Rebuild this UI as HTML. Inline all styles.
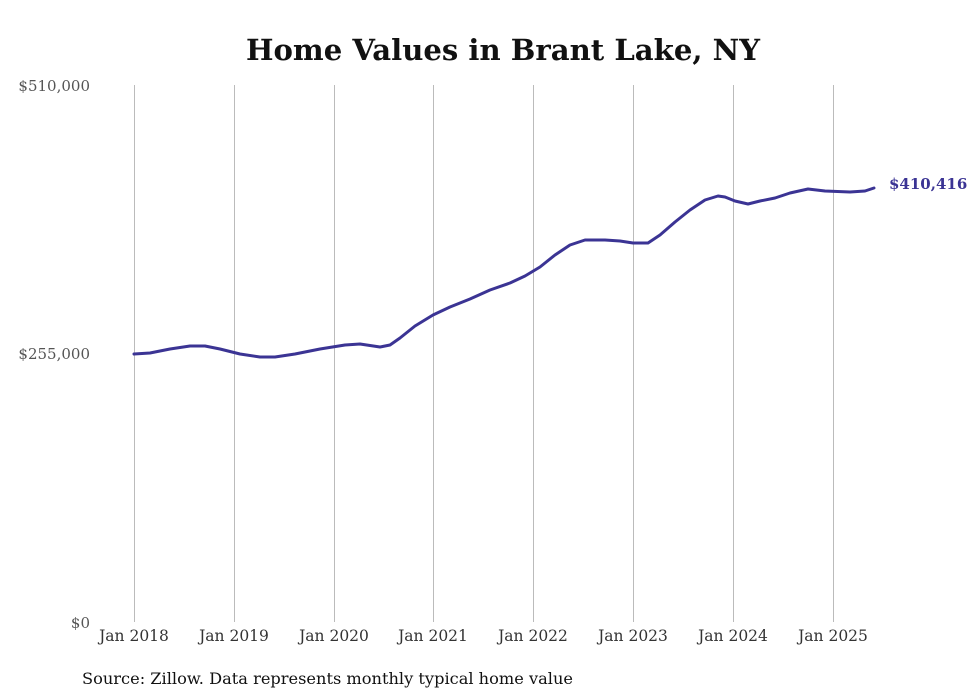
<!DOCTYPE html>
<html><head><style>
body{margin:0;background:#fff;}
svg{display:block;}
</style></head><body>
<svg width="980" height="699" xmlns="http://www.w3.org/2000/svg" font-family="'DejaVu Serif','Liberation Serif',serif">
<text x="503" y="60" text-anchor="middle" font-size="29" font-weight="bold" fill="#111" textLength="514" lengthAdjust="spacingAndGlyphs">Home Values in Brant Lake, NY</text>
<g stroke="#bbb" stroke-width="1">
<line x1="134.5" y1="85" x2="134.5" y2="622"/>
<line x1="234.5" y1="85" x2="234.5" y2="622"/>
<line x1="334.5" y1="85" x2="334.5" y2="622"/>
<line x1="433.5" y1="85" x2="433.5" y2="622"/>
<line x1="533.5" y1="85" x2="533.5" y2="622"/>
<line x1="633.5" y1="85" x2="633.5" y2="622"/>
<line x1="733.5" y1="85" x2="733.5" y2="622"/>
<line x1="833.5" y1="85" x2="833.5" y2="622"/>
</g>
<g font-size="15" fill="#555" text-anchor="end">
<text x="90" y="91">$510,000</text>
<text x="90" y="359">$255,000</text>
<text x="90" y="628">$0</text>
</g>
<g font-size="15.5" fill="#333" text-anchor="middle">
<text x="134" y="641">Jan 2018</text>
<text x="234" y="641">Jan 2019</text>
<text x="334" y="641">Jan 2020</text>
<text x="433" y="641">Jan 2021</text>
<text x="533" y="641">Jan 2022</text>
<text x="633" y="641">Jan 2023</text>
<text x="733" y="641">Jan 2024</text>
<text x="833" y="641">Jan 2025</text>
</g>
<polyline fill="none" stroke="#3b3494" stroke-width="3" stroke-linejoin="round" stroke-linecap="round"
points="134,354 150,353 170,349 190,346 205,346 220,349 240,354 260,357 275,357 295,354 320,349 345,345 360,344 380,347 390,345 400,338 415,326 433,315 450,307 470,299 490,290 510,283 525,276 540,267 555,255 570,245 585,240 605,240 620,241 633,243 648,243 660,235 675,222 690,210 705,200 718,196 725,197 735,201 748,204 760,201 775,198 790,193 808,189 825,191 850,192 865,191 874,188"/>
<text x="889" y="189" font-size="15" font-weight="bold" fill="#3b3494">$410,416</text>
<text x="82" y="684" font-size="16" fill="#111" textLength="491" lengthAdjust="spacingAndGlyphs">Source: Zillow. Data represents monthly typical home value</text>
</svg>
</body></html>
